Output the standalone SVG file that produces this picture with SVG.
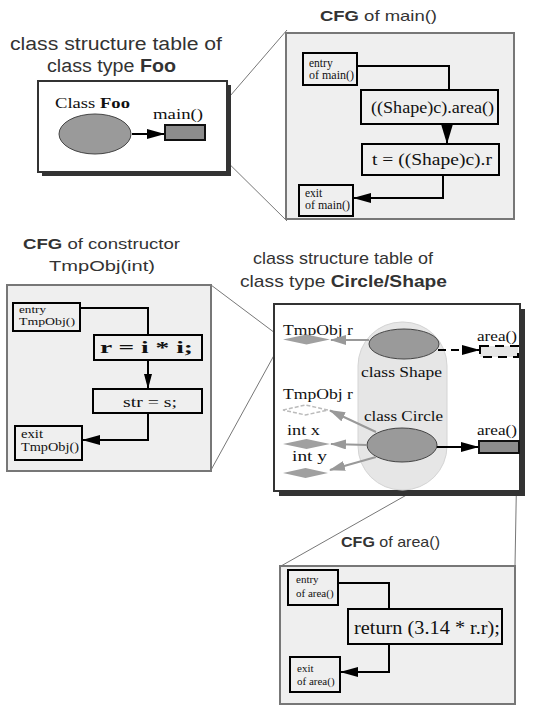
<svg xmlns="http://www.w3.org/2000/svg" width="534" height="710" viewBox="0 0 534 710">
<defs>
<style>
.title{font-family:"Liberation Sans",Arial,sans-serif;fill:#333;}
.ser{font-family:"Liberation Serif","Times New Roman",serif;fill:#111;}
.tbl{fill:#fff;stroke:#333;stroke-width:2;}
.shadow{fill:#333;}
.panel{fill:#efefef;stroke:#777;stroke-width:2;}
.nd{fill:none;stroke:#000;stroke-width:2;}
.ell{fill:#9a9a9a;stroke:#444;stroke-width:1;}
.meth{fill:#8c8c8c;stroke:#111;stroke-width:2;}
.flow{fill:none;stroke:#000;stroke-width:2;}
.gr{fill:none;stroke:#999;stroke-width:2;}
.zoomline{fill:none;stroke:#777;stroke-width:1;}
.dia{fill:#a0a0a0;stroke:none;}
</style>
<marker id="ah" viewBox="0 0 18 10" refX="17" refY="5" markerWidth="18" markerHeight="10" markerUnits="userSpaceOnUse" orient="auto"><path d="M0,0 L18,5 L0,10 z" fill="#000"/></marker>
<marker id="ahs" viewBox="0 0 15 8" refX="14" refY="4" markerWidth="15" markerHeight="8" markerUnits="userSpaceOnUse" orient="auto"><path d="M0,0 L15,4 L0,8 z" fill="#000"/></marker>
<marker id="ahb" viewBox="0 0 20 12" refX="19" refY="6" markerWidth="20" markerHeight="12" markerUnits="userSpaceOnUse" orient="auto"><path d="M0,0 L20,6 L0,12 z" fill="#000"/></marker>
<marker id="ahg" viewBox="0 0 16 10" refX="15" refY="5" markerWidth="16" markerHeight="10" markerUnits="userSpaceOnUse" orient="auto"><path d="M0,0 L16,5 L0,10 z" fill="#999"/></marker>
</defs>

<!-- Titles -->
<g id="titles">
<text class="title" x="10" y="50" font-size="18" textLength="212" lengthAdjust="spacingAndGlyphs">class structure table of</text>
<text class="title" x="47" y="72" font-size="18" textLength="129" lengthAdjust="spacingAndGlyphs">class type <tspan font-weight="bold">Foo</tspan></text>
<text class="title" x="320" y="21" font-size="15" textLength="117" lengthAdjust="spacingAndGlyphs"><tspan font-weight="bold">CFG</tspan> of main()</text>
<text class="title" x="23" y="249" font-size="15" textLength="157" lengthAdjust="spacingAndGlyphs"><tspan font-weight="bold">CFG</tspan> of constructor</text>
<text class="title" x="49" y="271" font-size="15" textLength="106" lengthAdjust="spacingAndGlyphs">TmpObj(int)</text>
<text class="title" x="253" y="264" font-size="17" textLength="180" lengthAdjust="spacingAndGlyphs">class structure table of</text>
<text class="title" x="240" y="287" font-size="17" textLength="207" lengthAdjust="spacingAndGlyphs">class type <tspan font-weight="bold">Circle/Shape</tspan></text>
<text class="title" x="341" y="547" font-size="15" textLength="99" lengthAdjust="spacingAndGlyphs"><tspan font-weight="bold">CFG</tspan> of area()</text>
</g>

<!-- Connectors (zoom lines) -->
<g id="connectors">
<path class="zoomline" d="M205,125 L287,30"/>
<path class="zoomline" d="M205,140 L287,221"/>
<path class="zoomline" d="M211,285 L283,339"/>
<path class="zoomline" d="M211,470 L283,339"/>
<path class="zoomline" d="M479,454 L281,566"/>
<path class="zoomline" d="M517,454 L515,566"/>
</g>

<!-- Foo class structure table -->
<g id="foo-table">
<rect class="shadow" x="42" y="85" width="189" height="91"/>
<rect class="tbl" x="38" y="81" width="189" height="91"/>
<text class="ser" x="55" y="108" font-size="15" textLength="75" lengthAdjust="spacingAndGlyphs">Class <tspan font-weight="bold">Foo</tspan></text>
<ellipse class="ell" cx="95" cy="134" rx="36" ry="20"/>
<text class="ser" x="153" y="119" font-size="15" textLength="50" lengthAdjust="spacingAndGlyphs">main()</text>
<rect class="meth" x="165" y="125" width="40" height="15"/>
<path class="flow" d="M132,134 H164" marker-end="url(#ah)"/>
</g>

<!-- CFG of main() -->
<g id="cfg-main">
<rect class="panel" x="286" y="33" width="228" height="186"/>
<rect class="nd" x="303" y="53" width="54" height="32"/>
<text class="ser" x="309" y="67" font-size="11.5">entry</text>
<text class="ser" x="309" y="79" font-size="11.5" textLength="45" lengthAdjust="spacingAndGlyphs">of main()</text>
<rect class="nd" x="361" y="90" width="137" height="34"/>
<text class="ser" x="371" y="113" font-size="16" textLength="123" lengthAdjust="spacingAndGlyphs">((Shape)c).area()</text>
<rect class="nd" x="362" y="144" width="137" height="31"/>
<text class="ser" x="372" y="165" font-size="16" textLength="120" lengthAdjust="spacingAndGlyphs">t = ((Shape)c).r</text>
<rect class="nd" x="299" y="185" width="54" height="31"/>
<text class="ser" x="305" y="197" font-size="11.5">exit</text>
<text class="ser" x="305" y="209" font-size="11.5" textLength="45" lengthAdjust="spacingAndGlyphs">of main()</text>
<path class="flow" d="M357,66 H449 V90"/>
<path class="flow" d="M447,124 V143" marker-end="url(#ahb)"/>
<path class="flow" d="M443,175 V198 H354" marker-end="url(#ah)"/>
</g>

<!-- CFG of constructor -->
<g id="cfg-ctor">
<rect class="panel" x="7" y="285" width="204" height="186"/>
<rect class="nd" x="13" y="303" width="67" height="28"/>
<text class="ser" x="19" y="313" font-size="11" textLength="27" lengthAdjust="spacingAndGlyphs">entry</text>
<text class="ser" x="19" y="325" font-size="11" textLength="56" lengthAdjust="spacingAndGlyphs">TmpObj()</text>
<rect class="nd" x="94" y="335" width="108" height="25"/>
<text class="ser" x="100" y="353" font-size="17" font-weight="bold" textLength="93" lengthAdjust="spacingAndGlyphs">r = i * i;</text>
<rect class="nd" x="93" y="389" width="109" height="24"/>
<text class="ser" x="123" y="407" font-size="15" textLength="54" lengthAdjust="spacingAndGlyphs">str = s;</text>
<rect class="nd" x="15" y="426" width="67" height="34"/>
<text class="ser" x="21" y="438" font-size="12" textLength="22" lengthAdjust="spacingAndGlyphs">exit</text>
<text class="ser" x="21" y="451" font-size="12" textLength="58" lengthAdjust="spacingAndGlyphs">TmpObj()</text>
<path class="flow" d="M80,308 H148 V335"/>
<path class="flow" d="M148,360 V388" marker-end="url(#ahs)"/>
<path class="flow" d="M148,413 V440 H83" marker-end="url(#ah)"/>
</g>

<!-- Circle/Shape class structure table -->
<g id="circle-shape-table">
<rect class="shadow" x="279" y="309" width="246" height="187"/>
<rect class="tbl" x="274" y="304" width="246" height="187"/>
<rect x="358" y="322" width="89" height="168" rx="44" ry="44" fill="#e6e6e6" stroke="#d4d4d4" stroke-width="1"/>
</g>

<g id="shape-class">
<ellipse class="ell" cx="404" cy="344" rx="35" ry="15"/>
<text class="ser" x="361" y="377" font-size="14.5" textLength="81" lengthAdjust="spacingAndGlyphs">class Shape</text>
<text class="ser" x="477" y="341" font-size="14" textLength="40" lengthAdjust="spacingAndGlyphs">area()</text>
<rect x="480" y="346" width="38" height="11" fill="#e6e6e6" stroke="#000" stroke-width="2" stroke-dasharray="9,6"/>
<path class="flow" d="M438,350 H479" stroke-dasharray="8,5" marker-end="url(#ah)"/>
<text class="ser" x="283" y="335" font-size="14" textLength="70" lengthAdjust="spacingAndGlyphs">TmpObj r</text>
<polygon class="dia" points="283,339.5 306.5,334.5 330,339.5 306.5,344.5"/>
<path class="gr" d="M369,340 H331" marker-end="url(#ahg)"/>
</g>

<g id="circle-class">
<ellipse class="ell" cx="402" cy="445" rx="35" ry="17"/>
<text class="ser" x="364" y="421" font-size="14.5" textLength="79" lengthAdjust="spacingAndGlyphs">class Circle</text>
<text class="ser" x="477" y="435" font-size="14" textLength="40" lengthAdjust="spacingAndGlyphs">area()</text>
<rect class="meth" x="479" y="441" width="40" height="12"/>
<path class="flow" d="M437,447 H478" marker-end="url(#ah)"/>
<text class="ser" x="283" y="399" font-size="14" textLength="70" lengthAdjust="spacingAndGlyphs">TmpObj r</text>
<polygon points="283,410 305.5,405 328,410 305.5,415" fill="#fff" stroke="#bbb" stroke-width="1.5" stroke-dasharray="4,2"/>
<path class="gr" d="M376,432 L330,410.5" marker-end="url(#ahg)"/>
<text class="ser" x="287" y="435" font-size="14" textLength="33" lengthAdjust="spacingAndGlyphs">int x</text>
<polygon class="dia" points="283,444 306.5,439 330,444 306.5,449"/>
<path class="gr" d="M367,445 L331,444" marker-end="url(#ahg)"/>
<text class="ser" x="292" y="461" font-size="14" textLength="35" lengthAdjust="spacingAndGlyphs">int y</text>
<polygon class="dia" points="283,473 305.5,468 328,473 305.5,478"/>
<path class="gr" d="M376,457 L330,470" marker-end="url(#ahg)"/>
</g>

<!-- CFG of area() -->
<g id="cfg-area">
<rect class="panel" x="280" y="566" width="235" height="138"/>
<rect class="nd" x="288" y="570" width="50" height="35"/>
<text class="ser" x="296" y="583" font-size="11">entry</text>
<text class="ser" x="296" y="597" font-size="11">of area()</text>
<rect class="nd" x="348" y="609" width="154" height="35"/>
<text class="ser" x="354" y="634" font-size="18.5" textLength="146" lengthAdjust="spacingAndGlyphs">return (3.14 * r.r);</text>
<rect class="nd" x="290" y="657" width="50" height="35"/>
<text class="ser" x="297" y="672" font-size="11">exit</text>
<text class="ser" x="297" y="685" font-size="11">of area()</text>
<path class="flow" d="M337,583 H389 V609"/>
<path class="flow" d="M389,644 V672 H341" marker-end="url(#ah)"/>
</g>
</svg>
